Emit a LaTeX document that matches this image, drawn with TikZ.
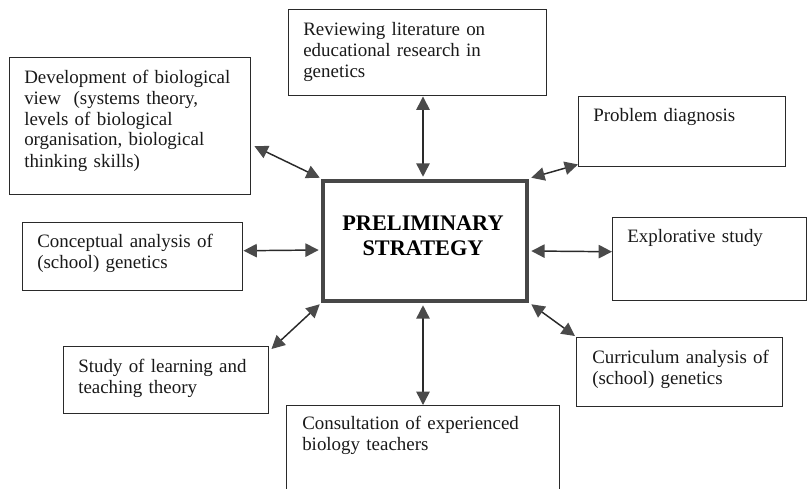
\documentclass[tikz,border=0pt]{standalone}
\usepackage{fontspec}
\setmainfont{Liberation Serif}
\usetikzlibrary{arrows.meta,calc}
\definecolor{inkline}{HTML}{2A2A2A}
\definecolor{tipfill}{HTML}{4A4A4A}
\definecolor{frame}{HTML}{474747}
\begin{document}
\begin{tikzpicture}[x=0.75pt,y=-0.75pt,
  box/.style={draw=inkline,line width=1.1pt,rectangle,inner sep=0pt},
  txt/.style={anchor=base west,inner sep=0pt,text width=260pt,align=left,
    font=\fontsize{14.2}{15.75}\selectfont,text=black!90},
  hub/.style={draw=frame,line width=3.4pt,rectangle,inner sep=0pt,
    minimum width=204*0.75pt,minimum height=120*0.75pt},
  hubtxt/.style={anchor=base,inner sep=0pt,text width=180pt,align=center,
    font=\bfseries\fontsize{16.7}{18.75}\selectfont},
  tip/.style={Triangle[length=10pt,width=10pt,fill=tipfill,color=tipfill]},
  link/.style={draw=inkline,line width=1.1pt,{Triangle[length=10pt,width=10pt,fill=tipfill,color=tipfill]}-{Triangle[length=10pt,width=10pt,fill=tipfill,color=tipfill]}}
]
\clip (0,0) rectangle (807,489);
\fill[white] (0,0) rectangle (807,489);

% central strategy box
\node[hub] (ctr) at (425,241) {};
\node[hubtxt] (ctrT) at (423,230) {PRELIMINARY\\STRATEGY};

% surrounding activity boxes
\node[box,minimum width=258*0.75pt,minimum height=86*0.75pt,anchor=north west] (rev) at (288,9) {};
\node[txt] (revT) at (303,36) {Reviewing literature on\\educational research in\\genetics};

\node[box,minimum width=241*0.75pt,minimum height=137*0.75pt,anchor=north west] (dev) at (9,57) {};
\node[txt] (devT) at (24,83) {Development of biological\\view\ \ (systems theory,\\levels of biological\\organisation, biological\\thinking skills)};

\node[box,minimum width=207*0.75pt,minimum height=70*0.75pt,anchor=north west] (prob) at (578,96) {};
\node[txt] (probT) at (593,121) {Problem diagnosis};

\node[box,minimum width=220*0.75pt,minimum height=68*0.75pt,anchor=north west] (conc) at (22,222) {};
\node[txt] (concT) at (37,247) {Conceptual analysis of\\(school) genetics};

\node[box,minimum width=194*0.75pt,minimum height=83*0.75pt,anchor=north west] (expl) at (612,217) {};
\node[txt] (explT) at (627,242) {Explorative study};

\node[box,minimum width=205*0.75pt,minimum height=67*0.75pt,anchor=north west] (stud) at (63,346) {};
\node[txt] (studT) at (78,372) {Study of learning and\\teaching theory};

\node[box,minimum width=206*0.75pt,minimum height=69*0.75pt,anchor=north west] (curr) at (576,337) {};
\node[txt] (currT) at (592,363) {Curriculum analysis of\\(school) genetics};

\node[box,minimum width=273*0.75pt,minimum height=95*0.75pt,anchor=north west] (cons) at (286,405) {};
\node[txt] (consT) at (302,429) {Consultation of experienced\\biology teachers};

% two-way connectors between the hub and each activity
\draw[link] (rev.south -| ctr.north) ++(-2,0) -- ($(ctr.north)+(-2,-2)$);
\draw[link] ($(dev.east)+(3,20)$) -- ($(ctr.north west)+(-1,-1)$);
\draw[link] ($(ctr.north east)+(2,-1)$) -- ($(prob.south west)+(0,-3)$);
\draw[link] ($(conc.east)+(0,-6)$) -- ($(ctr.west)+(-2,9)$);
\draw[link] ($(ctr.east)+(2,10)$) -- ($(expl.west)+(0,-7.5)$);
\draw[link] ($(ctr.south west)+(-1,1)$) -- ($(stud.north east)+(2,3)$);
\draw[link] ($(ctr.south east)+(2,1)$) -- ($(curr.north west)+(-1,-1)$);
\draw[link] ($(ctr.south)+(-2,2)$) -- ($(cons.north -| ctr.south)+(-2,0)$);
\end{tikzpicture}
\end{document}
